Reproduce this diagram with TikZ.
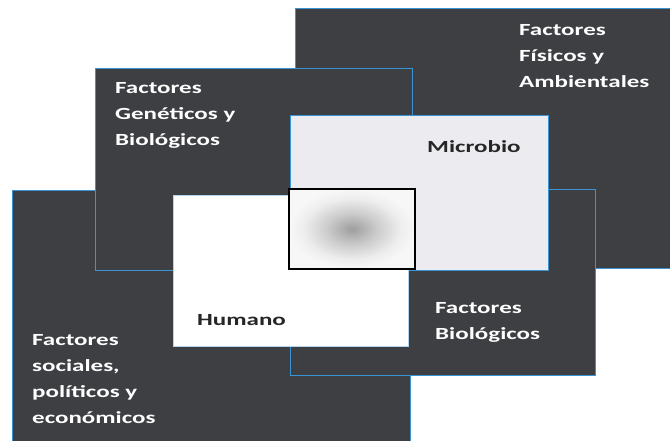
\documentclass[tikz,border=0pt]{standalone}
\usepackage{fontspec}
\newfontfamily\labfont[FakeStretch=1.47]{Carlito}
\usetikzlibrary{positioning}
\definecolor{slate}{RGB}{62,63,67}
\definecolor{edgeblue}{RGB}{58,148,214}
\definecolor{mistgray}{RGB}{236,236,240}
\pgfdeclareradialshading{blurspot}{\pgfpoint{0bp}{0bp}}{%
  color(0bp)=(black!38); color(10bp)=(black!20); color(19bp)=(black!7);
  color(25bp)=(black!3); color(50bp)=(black!3)}
\tikzset{
  factor/.style={fill=slate,draw=edgeblue,line width=1pt},
  lab/.style={inner sep=0pt,anchor=base west,align=left,text=white,
    font=\labfont\bfseries\fontsize{17}{26}\selectfont},
  darklab/.style={lab,text=black!85}
}
\begin{document}
\begin{tikzpicture}[x=1pt,y=-1pt]
\useasboundingbox (0,0) rectangle (670,440);
% outer factors
\draw[factor] (295,8) rectangle (676,268);
\draw[factor] (12,190) rectangle (410,446);
\draw[factor] (95,68) rectangle (412,270);
\draw[factor] (290,189) rectangle (595,375);
% microbio and humano
\draw[fill=mistgray,draw=edgeblue,line width=1pt] (290,115) rectangle (548,270);
\draw[fill=white,draw=edgeblue!40,line width=.6pt] (173,195) rectangle (408,346);
% overlap
\draw[line width=1.8pt,shading=blurspot] (289,189) rectangle (415,269);

% labels, placed at the baseline of their last line
\node[lab] (fisicos) at (519,87) {Factores\\Físicos y\\Ambientales};
\node[lab] (geneticos) at (115,145) {Factores\\Genéticos y\\Biológicos};
\node[lab] (sociales) at (32,423) {Factores\\sociales,\\políticos y\\económicos};
\node[lab] (biologicos) at (435,339) {Factores\\Biológicos};
\node[darklab] (microbio) at (427,152) {Microbio};
\node[darklab] (humano) at (197,325) {Humano};
\end{tikzpicture}
\end{document}
